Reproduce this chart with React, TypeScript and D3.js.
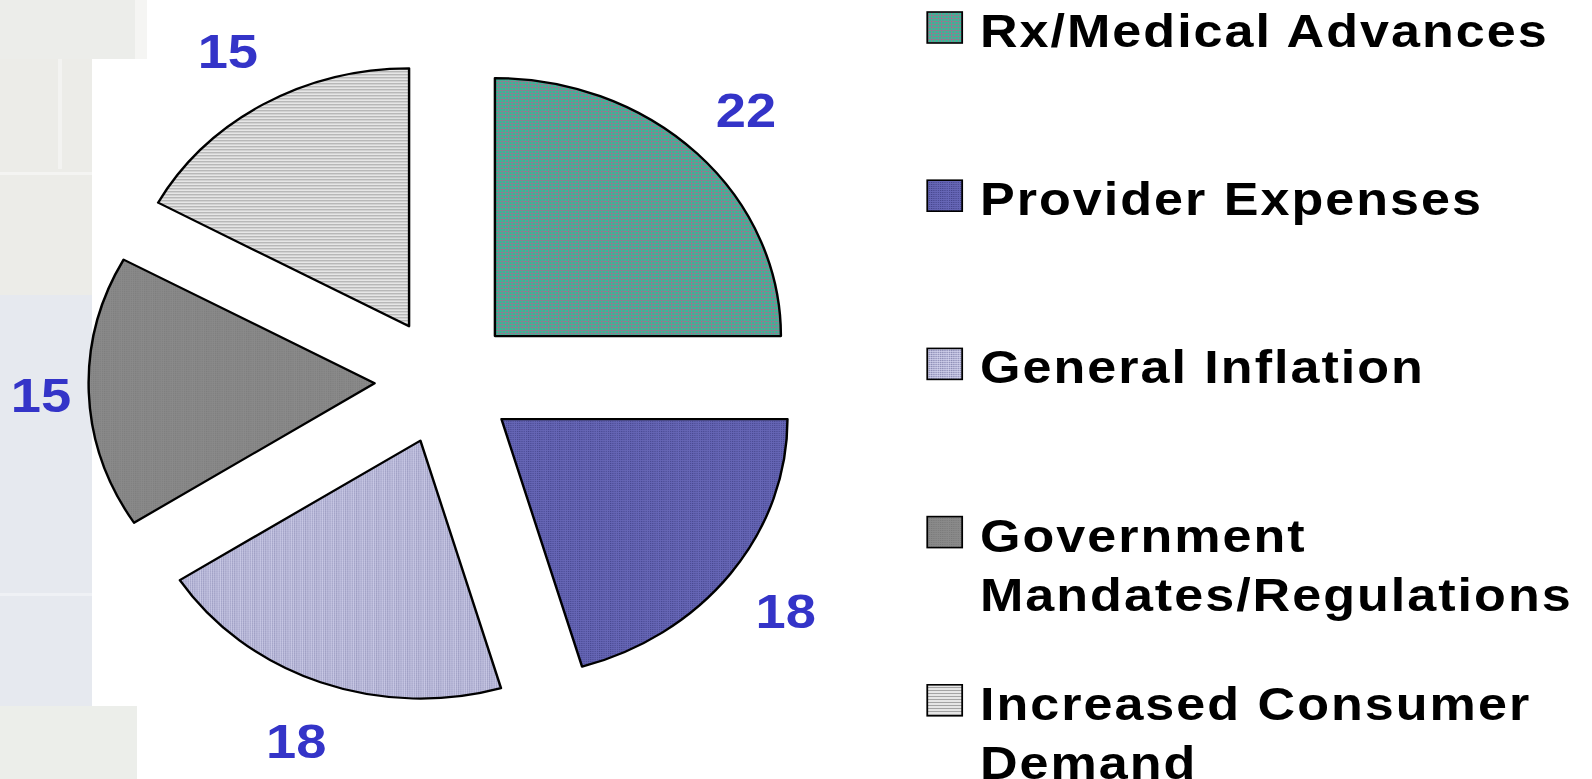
import React from 'react';
import * as d3 from 'd3';

// slices, clockwise from 12 o'clock
const categories = [
  'Rx/Medical Advances',
  'Provider Expenses',
  'General Inflation',
  'Government Mandates/Regulations',
  'Increased Consumer Demand'
];
const values = [22, 18, 18, 15, 15];
// legend text as it wraps in the picture
const legendLines = [
  ['Rx/Medical Advances'],
  ['Provider Expenses'],
  ['General Inflation'],
  ['Government', 'Mandates/Regulations'],
  ['Increased Consumer', 'Demand']
];
const patternIds = ['pRx', 'pProv', 'pInfl', 'pGov', 'pCons'];

const W = 1592;
const H = 779;
const SX = 1.1085; // the whole picture is stretched horizontally

const App = () => {
  const cx = 401.5;
  const cy = 381;
  const radius = 258;
  const explode = 63.6;
  const labelR = 384;

  const pie = d3.pie<number>().sort(null).value((d) => d);
  const arcs = pie(values);
  const arc = d3.arc<d3.PieArcDatum<number>>().innerRadius(0).outerRadius(radius);

  const legendX = 884;
  const rowY = d3.scaleLinear().domain([0, 4]).range([30.5, 703.3]);
  const lineH = 59;

  return (
    <svg
      width={W}
      height={H}
      style={{ position: 'absolute', left: 0, top: 0, background: '#fff' }}
    >
      <defs>
        <pattern id="pRx" width={3} height={3} patternUnits="userSpaceOnUse">
          <rect width={3} height={3} fill="#2cbf98" />
          <rect width={3} height={1} fill="#8a8090" />
          <rect width={1} height={3} fill="#8a8090" />
        </pattern>
        <pattern id="pProv" width={2} height={2} patternUnits="userSpaceOnUse">
          <rect width={2} height={2} fill="#6666b6" />
          <rect width={1} height={1} fill="#45458c" />
        </pattern>
        <pattern id="pInfl" width={2} height={2} patternUnits="userSpaceOnUse">
          <rect width={2} height={2} fill="#bcbcdc" />
          <rect width={1} height={1} fill="#8c8cb4" />
          <rect x={1} y={1} width={1} height={1} fill="#d0d0ea" />
        </pattern>
        <pattern id="pGov" width={2} height={2} patternUnits="userSpaceOnUse">
          <rect width={2} height={2} fill="#8a8a8a" />
          <rect width={1} height={1} fill="#7a7a7a" />
        </pattern>
        <pattern id="pCons" width={3} height={3} patternUnits="userSpaceOnUse">
          <rect width={3} height={3} fill="#e6e6e6" />
          <rect width={3} height={1} fill="#a4a4a4" />
        </pattern>
      </defs>

      {/* faded slide background at the left */}
      <g>
        <rect x={0} y={0} width={147} height={59} fill="#ecedea" />
        <rect x={135} y={0} width={12} height={59} fill="#f5f5f3" />
        <rect x={0} y={59} width={92} height={236} fill="#ececE8" />
        <rect x={58} y={59} width={4} height={110} fill="#f3f3f1" />
        <rect x={0} y={172} width={92} height={3} fill="#f4f4f2" />
        <rect x={0} y={295} width={92} height={411} fill="#e6e9ef" />
        <rect x={0} y={593} width={92} height={3} fill="#eff1f5" />
        <rect x={0} y={706} width={137} height={73} fill="#eceeea" />
      </g>

      <g transform={`scale(${SX},1)`}>
        {arcs.map((d, i) => {
          const mid = (d.startAngle + d.endAngle) / 2;
          const tx = cx + Math.sin(mid) * explode;
          const ty = cy - Math.cos(mid) * explode;
          return (
            <path
              key={categories[i]}
              d={arc(d) || ''}
              transform={`translate(${tx},${ty})`}
              fill={`url(#${patternIds[i]})`}
              stroke="#000"
              strokeWidth={2.2}
              strokeLinejoin="round"
            />
          );
        })}

        {arcs.map((d, i) => {
          const mid = (d.startAngle + d.endAngle) / 2;
          const x = Math.max(37, cx + Math.sin(mid) * labelR);
          const y = cy - Math.cos(mid) * labelR;
          return (
            <text
              key={'l' + i}
              x={x}
              y={y}
              textAnchor="middle"
              dominantBaseline="central"
              fontFamily="'Liberation Sans', Arial, sans-serif"
              fontWeight="bold"
              fontSize={49}
              fill="#3434c8"
            >
              {values[i]}
            </text>
          );
        })}

        {legendLines.map((lines, i) => {
          const yc = rowY(i);
          return (
            <g key={'lg' + i}>
              <rect
                x={836.5}
                y={yc - 3 - 15.5}
                width={31.5}
                height={31}
                fill={`url(#${patternIds[i]})`}
                stroke="#000"
                strokeWidth={1.6}
              />
              {lines.map((t, j) => (
                <text
                  key={t}
                  x={legendX}
                  y={yc + 16.5 + j * lineH}
                  fontFamily="'Liberation Sans', Arial, sans-serif"
                  fontWeight="bold"
                  fontSize={47}
                  letterSpacing={1.8}
                  fill="#000"
                >
                  {t}
                </text>
              ))}
            </g>
          );
        })}
      </g>
    </svg>
  );
};

export default App;
